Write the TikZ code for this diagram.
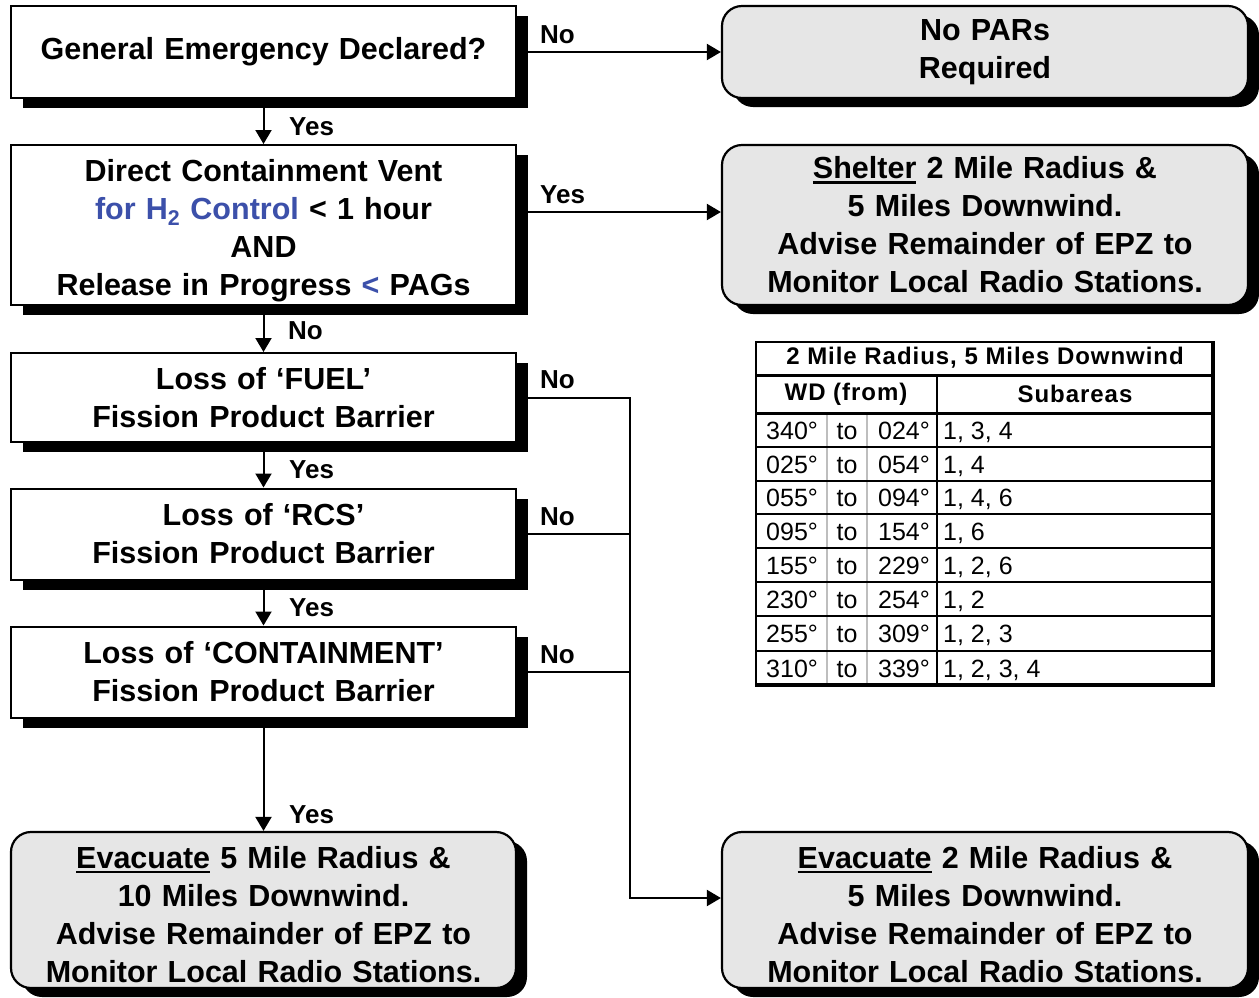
\documentclass[tikz,border=0pt]{standalone}
\usepackage{fontspec}
\setmainfont{Liberation Sans}
\newfontfamily\hdrfont[LetterSpace=4]{Liberation Sans}
\usetikzlibrary{shadows,arrows.meta,calc}
\definecolor{hblue}{RGB}{60,80,170}
\definecolor{boxgray}{RGB}{230,230,230}
\definecolor{sepgray}{RGB}{190,190,190}
\newcommand\myul[1]{\leavevmode\setbox0=\hbox{#1}\rlap{\rule[-5pt]{\wd0}{2.6pt}}\box0\relax}
\newcommand\tabrow[5]{%
  \node[cell, anchor=base west] (r#1a) at (766,#2) {#3};
  \node[cell, anchor=base] (r#1b) at (847,#2) {to};
  \node[cell, anchor=base east] (r#1c) at (930,#2) {#4};
  \node[cell, anchor=base west] (r#1d) at (943,#2) {#5};}
\tikzset{
  boxfont/.style={font=\bfseries\fontsize{30.5}{38}\selectfont},
  decision/.style={draw=black, line width=2pt, fill=white, minimum width=505pt,
    text width=500pt, align=center, inner sep=0pt, boxfont,
    drop shadow={shadow xshift=12pt, shadow yshift=-10pt, fill=black, opacity=1}},
  outcome/.style={draw=black, line width=2.2pt, fill=boxgray, rounded corners=20pt,
    minimum width=526pt, text width=520pt, align=center, inner sep=0pt, boxfont,
    drop shadow={shadow xshift=11pt, shadow yshift=-9pt, fill=black, opacity=1}},
  flow/.style={line width=2pt, -{Triangle[length=14pt,width=16pt]}},
  plain/.style={line width=2pt},
  lbl/.style={font=\bfseries\fontsize{26}{30}\selectfont, inner sep=0pt, anchor=west},
  cell/.style={font=\fontsize{25}{28}\selectfont, inner sep=0pt},
  hcell/.style={font=\hdrfont\bfseries\fontsize{24}{28}\selectfont, inner sep=0pt},
}
\begin{document}
\begin{tikzpicture}[x=1pt, y=-1pt]
\useasboundingbox (0,0) rectangle (1259,997);

% decision boxes
\node[decision, minimum height=92pt] (q1) at (263.5,52) {General Emergency Declared?};
\node[decision, minimum height=160pt] (q2) at (263.5,225) {\vphantom{X}\\[-26pt]Direct Containment Vent\\\textcolor{hblue}{for H\textsubscript{2} Control} < 1 hour\\AND\\Release in Progress \textcolor{hblue}{<} PAGs};
\node[decision, minimum height=89pt] (q3) at (263.5,397.5) {Loss of ‘FUEL’\\Fission Product Barrier};
\node[decision, minimum height=91pt] (q4) at (263.5,534) {Loss of ‘RCS’\\Fission Product Barrier};
\node[decision, minimum height=91pt] (q5) at (263.5,672) {Loss of ‘CONTAINMENT’\\Fission Product Barrier};

% outcome boxes
\node[outcome, minimum height=92pt] (nopar) at (985,52) {No PARs\\Required};
\node[outcome, minimum height=160pt] (shelter) at (985,225) {\myul{Shelter} 2 Mile Radius \&\\5 Miles Downwind.\\Advise Remainder of EPZ to\\Monitor Local Radio Stations.};
\node[outcome, minimum height=156pt, minimum width=505pt, text width=500pt] (evac5) at (263.5,910) {\vphantom{X}\\[-28pt]\myul{Evacuate} 5 Mile Radius \&\\10 Miles Downwind.\\Advise Remainder of EPZ to\\Monitor Local Radio Stations.};
\node[outcome, minimum height=156pt] (evac2) at (985,910) {\vphantom{X}\\[-28pt]\myul{Evacuate} 2 Mile Radius \&\\5 Miles Downwind.\\Advise Remainder of EPZ to\\Monitor Local Radio Stations.};

% connectors
\draw[flow] (q1.east) -- (nopar.west);
\draw[flow] (q1.south) -- (q2.north);
\draw[flow] ([yshift=13pt]q2.east) -- ([yshift=13pt]shelter.west);
\draw[flow] (q2.south) -- (q3.north);
\draw[flow] (q3.south) -- (q4.north);
\draw[flow] (q4.south) -- (q5.north);
\draw[flow] (q5.south) -- (evac5.north);
\coordinate (turn) at (630,898);
\draw[flow] (q3.east) -| (turn) -- (evac2.west |- turn);
\draw[plain] (q4.east) -- (q4.east -| turn);
\draw[plain] (q5.east) -- (q5.east -| turn);

% labels
\node[lbl] (l1) at (540,35) {No};
\node[lbl] (l2) at (289,127) {Yes};
\node[lbl] (l3) at (540,195) {Yes};
\node[lbl] (l4) at (288,331) {No};
\node[lbl] (l5) at (540,380) {No};
\node[lbl] (l6) at (289,470) {Yes};
\node[lbl] (l7) at (540,517) {No};
\node[lbl] (l8) at (289,608) {Yes};
\node[lbl] (l9) at (540,655) {No};
\node[lbl] (l10) at (289,815) {Yes};

% table
\draw[sepgray, line width=1.5pt] (827,413) -- (827,685);
\draw[sepgray, line width=1.5pt] (867,413) -- (867,685);
\foreach \yy in {447,481,514,548,582,616,651}
  \draw[line width=2pt] (756,\yy) -- (1213,\yy);
\draw[line width=3pt] (756,375) -- (1213,375);
\draw[line width=3pt] (756,413) -- (1213,413);
\draw[line width=2.5pt] (937,375) -- (937,685);
\draw[line width=2pt] (756,342) rectangle (1213,685);
\draw[line width=4pt] (1213,341) -- (1213,687);
\draw[line width=3.5pt] (755,685) -- (1215,685);

\node[hcell] (th1) at (985,358) {2 Mile Radius, 5 Miles Downwind};
\node[hcell] (th2) at (846,394) {WD (from)};
\node[hcell] (th3) at (1075,394) {Subareas};

\tabrow{1}{439}{340°}{024°}{1, 3, 4}
\tabrow{2}{473}{025°}{054°}{1, 4}
\tabrow{3}{506.5}{055°}{094°}{1, 4, 6}
\tabrow{4}{540}{095°}{154°}{1, 6}
\tabrow{5}{574}{155°}{229°}{1, 2, 6}
\tabrow{6}{608}{230°}{254°}{1, 2}
\tabrow{7}{642.5}{255°}{309°}{1, 2, 3}
\tabrow{8}{677}{310°}{339°}{1, 2, 3, 4}
\end{tikzpicture}
\end{document}
